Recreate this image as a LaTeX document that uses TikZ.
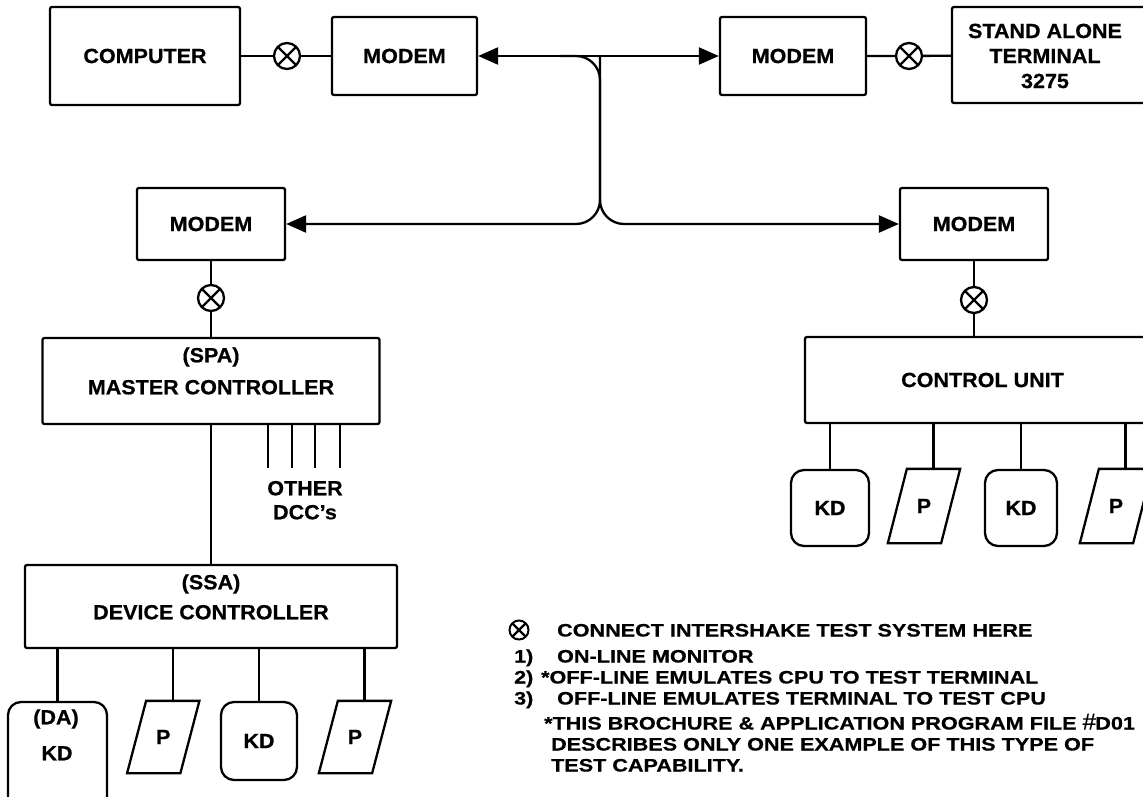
\documentclass[tikz,border=0pt]{standalone}
\usepackage{fontspec}
\setmainfont{Liberation Sans}[FakeStretch=1.05,FakeBold=0.6]
\newfontfamily\legfont{Liberation Sans}[FakeStretch=1.2,FakeBold=0.6]
\usetikzlibrary{arrows.meta}
\newcommand\drawpdev[1]{\draw ([xshift=9.5pt]#1.north west) -- ([xshift=9.5pt]#1.north east) -- ([xshift=-9.5pt]#1.south east) -- ([xshift=-9.5pt]#1.south west) -- cycle;}
\begin{document}
\begin{tikzpicture}[x=1pt,y=-1pt,line width=2.3pt,
  lbl/.style={font=\bfseries\fontsize{20.5}{25}\selectfont},
  box/.style={draw,rectangle,rounded corners=2pt,inner sep=0pt,lbl},
  txt/.style={inner sep=0pt,text height=14.6pt,text depth=0pt,lbl},
  leg/.style={inner sep=0pt,text height=13pt,text depth=0pt,anchor=west,font=\legfont\bfseries\fontsize{18}{21}\selectfont},
  kd/.style={draw,rectangle,rounded corners=13pt,inner sep=0pt,lbl},
  pdev/.style={rectangle,minimum width=51pt,minimum height=70pt,inner sep=0pt,lbl},
  xmark/.style={draw,circle,minimum size=26pt,inner sep=0pt,
    path picture={\draw[line width=2.3pt] (path picture bounding box.north west) -- (path picture bounding box.south east)
      (path picture bounding box.north east) -- (path picture bounding box.south west);}},
  tri/.style={-{Triangle[length=20pt,width=17pt]}},
  tritri/.style={{Triangle[length=20pt,width=17pt]}-{Triangle[length=20pt,width=17pt]}}]
\useasboundingbox (0,0) rectangle (1143,797);
\clip (0,0) rectangle (1143,797);

% top row
\node[box,minimum width=190pt,minimum height=98pt] (computer) at (145,56) {COMPUTER};
\node[xmark] (x1) at (287,56) {};
\node[box,minimum width=145pt,minimum height=78pt] (modem1) at (404.5,56) {MODEM};
\node[box,minimum width=146pt,minimum height=78pt] (modem2) at (793,56) {MODEM};
\node[xmark] (x2) at (909,56) {};
\node[box,minimum width=198pt,minimum height=96pt] (stand) at (1051,55) {};
\node[lbl,align=center,inner sep=0pt] (standtxt) at (1045,56) {STAND ALONE\\TERMINAL\\3275};
\draw (computer) -- (x1) -- (modem1);
\draw (modem2) -- (x2) -- (stand);
\draw[tritri] (modem1) -- (modem2);

% junction
\coordinate (jl) at (560,56);
\coordinate (jt) at (600,56);
\coordinate (jc) at (600,224);

% middle modems
\node[box,minimum width=148pt,minimum height=72pt] (modem3) at (211,224) {MODEM};
\node[box,minimum width=148pt,minimum height=72pt] (modem4) at (974,224) {MODEM};
\draw[rounded corners=24pt,tri] (jl) -- (jt) -- (jc) -- (modem3);
\draw[rounded corners=24pt,tri] (jt) -- (jc) -- (modem4);

% left branch
\node[xmark] (x3) at (211,298) {};
\node[box,minimum width=337pt,minimum height=86pt] (master) at (211,381) {};
\node[txt] (spa) at (211,355) {(SPA)};
\node[txt] (mc) at (211,387) {MASTER CONTROLLER};
\draw (modem3) -- (x3) -- (master);
\foreach \i/\x in {1/268,2/292,3/315,4/340} {
  \coordinate (d\i) at (\x,468);
  \draw (d\i |- master.south) -- (d\i);
}
\node[txt] (other) at (305,488) {OTHER};
\node[txt] (dccs) at (305,512) {DCC’s};

\node[box,minimum width=372pt,minimum height=83pt] (device) at (211,606.5) {};
\node[txt] (ssa) at (211,582) {(SSA)};
\node[txt] (dc) at (211,612) {DEVICE CONTROLLER};
\draw (master) -- (device);

\node[kd,minimum width=99pt,minimum height=108pt] (kd1) at (57.5,756) {};
\node[txt] (da) at (56,717) {(DA)};
\node[txt] (kd1t) at (57,753) {KD};
\node[pdev] (p1) at (163.25,737) {P};
\drawpdev{p1}
\node[kd,minimum width=76pt,minimum height=78pt] (kd2) at (259,741) {KD};
\node[pdev] (p2) at (355,737) {P};
\drawpdev{p2}
\draw (kd1.north |- device.south) -- (kd1.north);
\draw ([xshift=9.5pt]p1.north |- device.south) -- ([xshift=9.5pt]p1.north);
\draw (kd2.north |- device.south) -- (kd2.north);
\draw ([xshift=9.5pt]p2.north |- device.south) -- ([xshift=9.5pt]p2.north);

% right branch
\node[xmark] (x4) at (974,300) {};
\node[box,minimum width=355pt,minimum height=86pt] (control) at (982.5,380) {CONTROL UNIT};
\draw (modem4) -- (x4) -- (x4 |- control.north);
\node[kd,minimum width=78pt,minimum height=76pt] (kd3) at (830,508) {KD};
\node[pdev,minimum height=72pt] (p3) at (924,506) {P};
\drawpdev{p3}
\node[kd,minimum width=72pt,minimum height=76pt] (kd4) at (1021,508) {KD};
\node[pdev,minimum height=72pt] (p4) at (1116,506) {P};
\drawpdev{p4}
\draw (kd3.north |- control.south) -- (kd3.north);
\draw ([xshift=9.5pt]p3.north |- control.south) -- ([xshift=9.5pt]p3.north);
\draw (kd4.north |- control.south) -- (kd4.north);
\draw ([xshift=9.5pt]p4.north |- control.south) -- ([xshift=9.5pt]p4.north);

% legend
\node[xmark,minimum size=19pt,line width=2pt] (lx) at (519,630) {};
\node[leg] (l0) at (556,630) {CONNECT INTERSHAKE TEST SYSTEM HERE};
\node[leg] (n1) at (513,656) {1)};
\node[leg] (l1) at (556,656) {ON-LINE MONITOR};
\node[leg] (n2) at (513,677) {2)};
\node[leg] (l2) at (540,677) {*OFF-LINE EMULATES CPU TO TEST TERMINAL};
\node[leg] (n3) at (513,698) {3)};
\node[leg] (l3) at (556,698) {OFF-LINE EMULATES TERMINAL TO TEST CPU};
\node[leg] (l4) at (543,723) {*THIS BROCHURE \& APPLICATION PROGRAM FILE {\fontsize{23}{23}\selectfont$\#$}D01};
\node[leg] (l5) at (550,744) {DESCRIBES ONLY ONE EXAMPLE OF THIS TYPE OF};
\node[leg] (l6) at (550,765) {TEST CAPABILITY.};
\end{tikzpicture}
\end{document}
